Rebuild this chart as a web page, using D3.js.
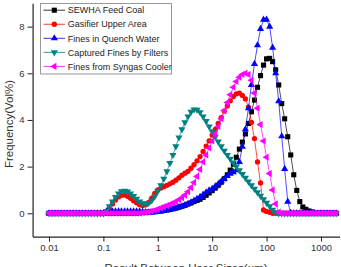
<!DOCTYPE html>
<html>
<head>
<meta charset="utf-8">
<script src="https://cdn.jsdelivr.net/npm/d3@7"></script>
<style>
  body { margin: 0; background: #fff; }
  svg { display: block; font-family: Arial, "Liberation Sans", sans-serif; }
</style>
</head>
<body>
<script>
// particle size bins (um), 18 per decade
var sizes = [
  0.01, 0.0114, 0.0129, 0.0147, 0.0167, 0.019, 0.0215, 0.0245, 0.0278, 0.0316, 0.0359, 0.0408, 0.0464, 0.0527, 0.0599, 0.0681, 0.0774, 0.088,
  0.1, 0.114, 0.129, 0.147, 0.167, 0.19, 0.215, 0.245, 0.278, 0.316, 0.359, 0.408, 0.464, 0.527, 0.599, 0.681, 0.774, 0.88,
  1, 1.14, 1.29, 1.47, 1.67, 1.9, 2.15, 2.45, 2.78, 3.16, 3.59, 4.08, 4.64, 5.27, 5.99, 6.81, 7.74, 8.8,
  10, 11.4, 12.9, 14.7, 16.7, 19, 21.5, 24.5, 27.8, 31.6, 35.9, 40.8, 46.4, 52.7, 59.9, 68.1, 77.4, 88,
  100, 114, 129, 147, 167, 190, 215, 245, 278, 316, 359, 408, 464, 527, 599, 681, 774, 880,
  1000, 1140, 1290, 1470, 1670, 1900
];

var feedCoal = [
  0,0,0,0,0,0,0,0,0,0,0,0,0,0,0,0,0,0,
  0,0,0,0,0,0,0,0,0,0,0,0,0.02,0.03,0.04,0.05,0.06,0.07,
  0.08,0.1,0.12,0.14,0.16,0.19,0.22,0.26,0.3,0.34,0.39,0.44,0.5,0.55,0.6,0.68,0.77,0.87,
  0.97,1.08,1.2,1.33,1.48,1.65,1.85,2.1,2.4,2.75,3.05,3.4,3.85,4.35,4.85,5.4,5.9,6.35,
  6.62,6.64,6.5,6.15,5.5,4.7,4.05,3.28,2.5,1.65,0.98,0.5,0.27,0.17,0.1,0.06,0.03,0.01,
  0,0,0,0,0,0
];
var gasifierUpper = [
  0,0,0,0,0,0,0,0,0,0,0,0,0,0,0,0,0,0,
  0,0.05,0.2,0.4,0.57,0.7,0.77,0.78,0.73,0.64,0.54,0.45,0.37,0.33,0.36,0.47,0.65,0.85,
  1.0,1.08,1.14,1.2,1.26,1.33,1.42,1.52,1.63,1.72,1.8,1.93,2.08,2.25,2.43,2.65,2.88,3.1,
  3.35,3.6,3.85,4.1,4.38,4.6,4.82,5.0,5.12,5.15,5.05,4.9,4.55,3.9,3.2,2.2,1.3,0.14,
  0.08,0.04,0,0,0,0,0,0,0,0,0,0,0,0,0,0,0,0,
  0,0,0,0,0,0
];
var quenchWater = [
  0,0,0,0,0,0,0,0,0,0,0,0,0,0,0,0,0,0,
  0,0.08,0.08,0.08,0.08,0.08,0.08,0.08,0.08,0.08,0.08,0.08,0.08,0.06,0.05,0.04,0.04,0.05,
  0.06,0.08,0.1,0.13,0.16,0.19,0.22,0.26,0.3,0.35,0.4,0.47,0.54,0.62,0.7,0.8,0.9,0.98,
  1.05,1.15,1.25,1.37,1.48,1.6,1.7,1.76,1.85,2.2,2.85,3.6,4.5,5.5,6.4,7.2,7.9,8.3,
  8.3,8.0,7.1,6.0,4.8,3.3,1.9,0.5,0.02,0,0,0,0,0,0,0,0,0,
  0,0,0,0,0,0
];
var filterFines = [
  0,0,0,0,0,0,0,0,0,0,0,0,0,0,0,0,0,0,
  0,0.1,0.3,0.5,0.7,0.85,0.94,0.96,0.93,0.85,0.74,0.62,0.5,0.43,0.41,0.44,0.55,0.72,
  0.95,1.2,1.48,1.8,2.15,2.5,2.87,3.25,3.6,3.9,4.15,4.35,4.45,4.44,4.33,4.15,3.95,3.72,
  3.5,3.28,3.07,2.87,2.68,2.5,2.33,2.17,2.0,1.84,1.68,1.52,1.36,1.2,1.05,0.9,0.75,0.6,
  0.45,0.3,0.15,0.04,0,0,0,0,0,0,0,0,0,0,0,0,0,0,
  0,0,0,0,0,0
];
var syngasCooler = [
  0,0,0,0,0,0,0,0,0,0,0,0,0,0,0,0,0,0,
  0,0,0,0,0,0,0,0,0,0,0,0,0,0.02,0.04,0.06,0.09,0.13,
  0.18,0.23,0.28,0.33,0.38,0.44,0.5,0.58,0.67,0.78,0.92,1.1,1.32,1.58,1.88,2.2,2.5,2.8,
  3.1,3.4,3.72,4.05,4.4,4.75,5.08,5.4,5.65,5.83,5.95,6.0,5.95,5.7,5.15,4.5,3.8,3.1,
  2.4,1.7,1.0,0.4,0.05,0,0,0,0,0,0,0,0,0,0,0,0,0,
  0,0,0,0,0,0
];

var seriesNames = ["SEWHA Feed Coal", "Gasifier Upper Area", "Fines in Quench Water",
                   "Captured Fines by Filters", "Fines from Syngas Cooler"];
var xTicks = [0.01, 0.1, 1, 10, 100, 1000];
var yTicks = [0, 2, 4, 6, 8];

var W = 341, H = 267;
var svg = d3.select("body").append("svg").attr("width", W).attr("height", H);

// scales
var x = d3.scaleLog().domain([0.005, 2200]).range([32.6, 339.6]);
var y = d3.scaleLinear().domain([-1, 9]).range([236.6, 3.3]);

var styles = [
  {color: "#000000", sym: d3.symbolSquare, size: 26, rot: 0},
  {color: "#ff0000", sym: d3.symbolCircle, size: 22, rot: 0},
  {color: "#0000ff", sym: d3.symbolTriangle, size: 22, rot: 0},
  {color: "#008080", sym: d3.symbolTriangle, size: 22, rot: 180},
  {color: "#ff00ff", sym: d3.symbolTriangle, size: 22, rot: -90}
];
var allSeries = [feedCoal, gasifierUpper, quenchWater, filterFines, syngasCooler];

// axes
var minorX = [];
[0.001, 0.01, 0.1, 1, 10, 100, 1000].forEach(function(d) {
  for (var k = 2; k <= 9; k++) {
    var v = d * k;
    if (v > 0.005 && v < 2200) minorX.push(v);
  }
});

var gx = svg.append("g").attr("transform", "translate(0," + y(-1) + ")");
gx.call(d3.axisBottom(x).tickValues(minorX).tickSize(3).tickSizeOuter(0).tickFormat(""));
gx.call(d3.axisBottom(x).tickValues(xTicks).tickSize(5).tickSizeOuter(0)
  .tickFormat(function(d) { return d < 1 ? String(d) : d3.format("d")(d); }));

var gy = svg.append("g").attr("transform", "translate(" + x(0.005) + ",0)");
gy.call(d3.axisLeft(y).tickValues([-1, 1, 3, 5, 7, 9]).tickSize(3).tickSizeOuter(0).tickFormat(""));
gy.call(d3.axisLeft(y).tickValues(yTicks).tickSize(5).tickSizeOuter(0));

svg.selectAll(".domain").attr("stroke", "#222").attr("stroke-width", 1.2);
svg.selectAll(".tick line").attr("stroke", "#222");
svg.selectAll(".tick text").attr("font-size", 9.5).attr("fill", "#333")
  .attr("font-family", "Arial, 'Liberation Sans', sans-serif");

// axis titles
svg.append("text")
  .attr("x", 186).attr("y", 272)
  .attr("text-anchor", "middle").attr("font-size", 11.5).attr("fill", "#333")
  .text("Result Between User Sizes(um)");
svg.append("text")
  .attr("transform", "translate(13,124) rotate(-90)")
  .attr("text-anchor", "middle").attr("font-size", 11.5).attr("fill", "#333")
  .text("Frequency(Vol%)");

// series
var line = d3.line()
  .x(function(d) { return x(d[0]); })
  .y(function(d) { return y(d[1]); });

allSeries.forEach(function(vals, s) {
  var st = styles[s];
  var pts = sizes.map(function(sz, i) { return [sz, vals[i]]; });
  svg.append("path").datum(pts)
    .attr("fill", "none").attr("stroke", st.color).attr("stroke-width", 0.7)
    .attr("d", line);
  svg.append("g").selectAll("path").data(pts).enter().append("path")
    .attr("d", d3.symbol().type(st.sym).size(st.size))
    .attr("fill", st.color)
    .attr("transform", function(d) {
      return "translate(" + x(d[0]) + "," + y(d[1]) + ") rotate(" + st.rot + ")";
    });
});

// legend
var lg = svg.append("g");
lg.append("rect").attr("x", 40.5).attr("y", 3.5).attr("width", 131).attr("height", 70.5)
  .attr("fill", "#fff").attr("stroke", "#999").attr("stroke-width", 1);
seriesNames.forEach(function(name, s) {
  var st = styles[s];
  var ly = 10.2 + s * 14.05;
  lg.append("line").attr("x1", 43.5).attr("x2", 65).attr("y1", ly).attr("y2", ly)
    .attr("stroke", st.color).attr("stroke-width", 0.8);
  lg.append("path").attr("d", d3.symbol().type(st.sym).size(st.size))
    .attr("fill", st.color)
    .attr("transform", "translate(54.3," + ly + ") rotate(" + st.rot + ")");
  lg.append("text").attr("x", 67.7).attr("y", ly + 3.2)
    .attr("font-size", 9).attr("fill", "#222").text(name);
});
</script>
</body>
</html>
